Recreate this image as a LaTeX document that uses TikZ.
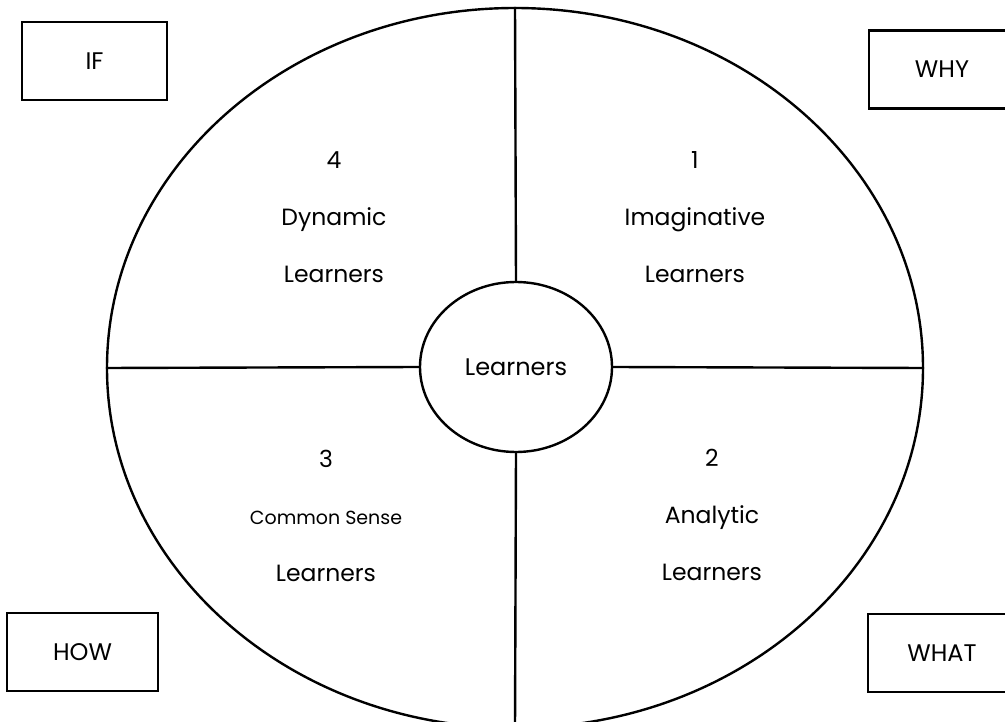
\documentclass[tikz,border=0pt]{standalone}
\usepackage{fontspec}
\setmainfont{Poppins}
\usetikzlibrary{shapes.geometric}

\begin{document}
\begin{tikzpicture}[
  x=1pt,
  y=-1pt,
  every node/.style={
    font=\fontsize{24}{28}\selectfont,
  },
  corner box/.style={
    draw=black,
    line width=2.4pt,
    minimum height=78pt,
    inner sep=0pt,
  },
  ring/.style={
    draw=black,
    ellipse,
    line width=2.4pt,
    inner sep=0pt,
  },
  divider/.style={
    draw=black,
    line width=2.4pt,
  },
  quarter/.style={
    align=center,
    font=\fontsize{23.5}{57}\selectfont,
  },
]
\useasboundingbox (0,0) rectangle (1005,722);
\clip (0,0) rectangle (1005,722);
\node[ring,minimum width=816pt,minimum height=720pt] (outer) at (515,368) {};
\node[ring,minimum width=192pt,minimum height=170pt] (hub) at (516,367) {Learners};
\draw[divider] (outer.north) -- (hub.north);
\draw[divider] (hub.south) -- (outer.south);
\draw[divider] (outer.west) -- (hub.west);
\draw[divider] (hub.east) -- (outer.east);
\node[corner box,minimum width=145pt] (if) at (94.5,61) {IF};
\node[corner box,minimum width=146pt] (why) at (942,69.5) {WHY};
\node[corner box,minimum width=151pt] (how) at (82.5,652) {HOW};
\node[corner box,minimum width=148pt] (what) at (942,653) {WHAT};
\node[quarter] (dynamic) at (334,217) {4\\Dynamic\\Learners};
\node[quarter] (imaginative) at (695,217) {1\\Imaginative\\Learners};
\node[quarter] (common) at (326,516) {3\\{\fontsize{19}{57}\selectfont Common Sense}\\Learners};
\node[quarter] (analytic) at (712,515) {2\\Analytic\\Learners};
\end{tikzpicture}
\end{document}
